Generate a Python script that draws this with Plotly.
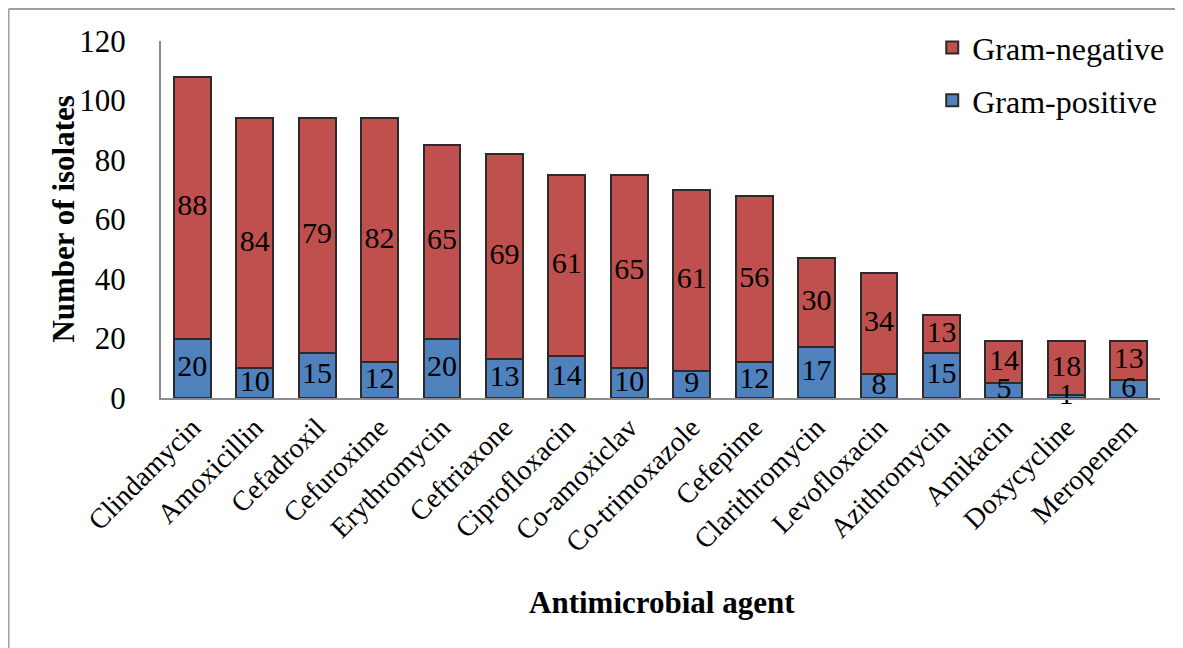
import plotly.graph_objects as go

categories = ["Clindamycin", "Amoxicillin", "Cefadroxil", "Cefuroxime", "Erythromycin",
              "Ceftriaxone", "Ciprofloxacin", "Co-amoxiclav", "Co-trimoxazole", "Cefepime",
              "Clarithromycin", "Levofloxacin", "Azithromycin", "Amikacin", "Doxycycline", "Meropenem"]
gram_positive = [20, 10, 15, 12, 20, 13, 14, 10, 9, 12, 17, 8, 15, 5, 1, 6]
gram_negative = [88, 84, 79, 82, 65, 69, 61, 65, 61, 56, 30, 34, 13, 14, 18, 13]

FONT = "Liberation Serif, Times New Roman, serif"
BLUE = "#4F81BD"
RED = "#C0504D"
EDGE = "#2b2b2b"

fig = go.Figure()
fig.add_trace(go.Bar(x=categories, y=gram_positive, name="Gram-positive",
                     marker=dict(color=BLUE, line=dict(color=EDGE, width=2)),
                     legendgroup="pos", legendrank=2))
fig.add_trace(go.Bar(x=categories, y=gram_negative, name="Gram-negative",
                     marker=dict(color=RED, line=dict(color=EDGE, width=2)),
                     legendgroup="neg", legendrank=1))

pos_mid = [p / 2 for p in gram_positive]
neg_mid = [p + n / 2 for p, n in zip(gram_positive, gram_negative)]
fig.add_trace(go.Scatter(x=categories, y=pos_mid, mode="text", text=[str(v) for v in gram_positive],
                         textfont=dict(family=FONT, size=30, color="black"), showlegend=False,
                         cliponaxis=False, hoverinfo="skip"))
fig.add_trace(go.Scatter(x=categories, y=neg_mid, mode="text", text=[str(v) for v in gram_negative],
                         textfont=dict(family=FONT, size=30, color="black"), showlegend=False,
                         cliponaxis=False, hoverinfo="skip"))

fig.update_layout(
    width=1175, height=640,
    margin=dict(l=153, r=23, t=33, b=250, autoexpand=False),
    barmode="stack", bargap=0.41,
    paper_bgcolor="white", plot_bgcolor="white",
    font=dict(family=FONT, color="black", size=30),
    showlegend=True,
    legend=dict(x=0.772, y=1.058, xanchor="left", yanchor="top", traceorder="grouped",
                tracegroupgap=8, font=dict(family=FONT, size=32), bgcolor="rgba(0,0,0,0)"),
    xaxis=dict(range=[-0.5, len(categories) - 0.5], showline=True, linecolor="#8c8c8c", linewidth=2,
               ticks="", tickangle=-45,
               tickfont=dict(family=FONT, size=28), showgrid=False, automargin=False),
    yaxis=dict(range=[0, 120], dtick=20, showline=True, linecolor="#8c8c8c", linewidth=2,
               ticks="", showgrid=False, zeroline=False, ticklabelstandoff=27,
               tickfont=dict(family=FONT, size=31), automargin=False),
    shapes=[
        dict(type="line", xref="paper", yref="paper", x0=-0.1526, x1=1.05, y0=1.0896, y1=1.0896,
             line=dict(color="#a0a0a0", width=2)),
        dict(type="line", xref="paper", yref="paper", x0=-0.1526, x1=-0.1526, y0=1.0896, y1=-0.75,
             line=dict(color="#a0a0a0", width=2)),
    ],
    annotations=[
        dict(text="<b>Number of isolates</b>", xref="paper", yref="paper", x=-0.098, y=0.5,
             textangle=-90, showarrow=False, font=dict(family=FONT, size=31), xanchor="center", yanchor="middle"),
        dict(text="<b>Antimicrobial agent</b>", xref="paper", yref="paper", x=0.5015, y=-0.574,
             showarrow=False, font=dict(family=FONT, size=31), xanchor="center", yanchor="middle"),
    ],
)

fig.write_html("out.html")
